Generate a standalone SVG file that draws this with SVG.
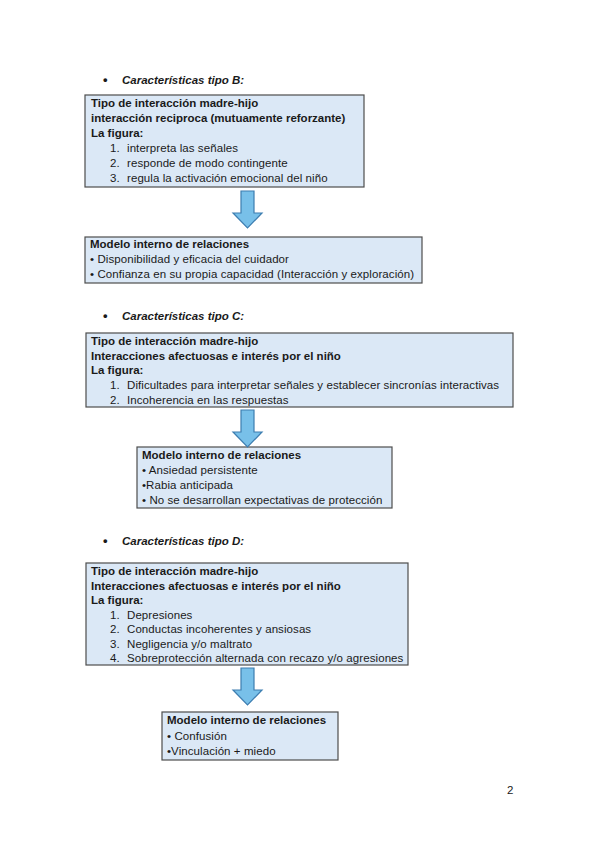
<svg xmlns="http://www.w3.org/2000/svg" width="599" height="848" viewBox="0 0 599 848">
<style>
  text { font-family: "Liberation Sans", Arial, sans-serif; font-size: 11.5px; fill: #1a1a1a; letter-spacing: 0.08px; }
  .b { font-weight: bold; letter-spacing: 0; }
  .h { font-weight: bold; font-style: italic; letter-spacing: 0; }
  .dot { font-size: 13px; font-weight: bold; }
  .box { fill: #dbe8f6; stroke: #4d4d4d; stroke-width: 1.2; }
  .arrow { fill: #78c0e9; stroke: #3c7db0; stroke-width: 1.2; stroke-linejoin: miter; }
</style>
<defs>
  <path id="dnArrow" d="M -6.5 0 H 6.5 V 22 H 14.5 L 0 37 L -14.5 22 H -6.5 Z"/>
</defs>
<rect width="599" height="848" fill="#ffffff"/>

<g id="heading-B">
  <text class="dot" x="103" y="84">•</text>
  <text class="h" x="122" y="84">Características tipo B:</text>
</g>
<g id="box-B">
  <rect class="box" x="85" y="95" width="279" height="92"/>
  <text class="b" x="91" y="107">Tipo de interacción madre-hijo</text>
  <text class="b" x="91" y="122">interacción reciproca (mutuamente reforzante)</text>
  <text class="b" x="91" y="137">La figura:</text>
  <text x="110" y="152">1.</text><text x="127" y="152">interpreta las señales</text>
  <text x="110" y="167">2.</text><text x="127" y="167">responde de modo contingente</text>
  <text x="110" y="182">3.</text><text x="127" y="182">regula la activación emocional del niño</text>
</g>
<g id="model-B">
  <rect class="box" x="85" y="237" width="337" height="46"/>
  <text class="b" x="90" y="248">Modelo interno de relaciones</text>
  <text x="90" y="263">• Disponibilidad y eficacia del cuidador</text>
  <text x="90" y="278">• Confianza en su propia capacidad (Interacción y exploración)</text>
</g>

<g id="heading-C">
  <text class="dot" x="103" y="320">•</text>
  <text class="h" x="122" y="320">Características tipo C:</text>
</g>
<g id="box-C">
  <rect class="box" x="86" y="333" width="427" height="74"/>
  <text class="b" x="91" y="345">Tipo de interacción madre-hijo</text>
  <text class="b" x="91" y="360">Interacciones afectuosas e interés por el niño</text>
  <text class="b" x="91" y="374">La figura:</text>
  <text x="110" y="389">1.</text><text x="127" y="389">Dificultades para interpretar señales y establecer sincronías interactivas</text>
  <text x="110" y="404">2.</text><text x="127" y="404">Incoherencia en las respuestas</text>
</g>
<g id="model-C">
  <rect class="box" x="137" y="447" width="255" height="61"/>
  <text class="b" x="142" y="459">Modelo interno de relaciones</text>
  <text x="142" y="474">• Ansiedad persistente</text>
  <text x="142" y="489">•Rabia anticipada</text>
  <text x="142" y="504">• No se desarrollan expectativas de protección</text>
</g>

<g id="heading-D">
  <text class="dot" x="103" y="545">•</text>
  <text class="h" x="122" y="545">Características tipo D:</text>
</g>
<g id="box-D">
  <rect class="box" x="86" y="563" width="322" height="102"/>
  <text class="b" x="91" y="575">Tipo de interacción madre-hijo</text>
  <text class="b" x="91" y="590">Interacciones afectuosas e interés por el niño</text>
  <text class="b" x="91" y="604">La figura:</text>
  <text x="110" y="619">1.</text><text x="127" y="619">Depresiones</text>
  <text x="110" y="633">2.</text><text x="127" y="633">Conductas incoherentes y ansiosas</text>
  <text x="110" y="648">3.</text><text x="127" y="648">Negligencia y/o maltrato</text>
  <text x="110" y="662">4.</text><text x="127" y="662">Sobreprotección alternada con recazo y/o agresiones</text>
</g>
<g id="model-D">
  <rect class="box" x="162" y="712" width="176" height="48"/>
  <text class="b" x="167" y="724">Modelo interno de relaciones</text>
  <text x="167" y="740">• Confusión</text>
  <text x="167" y="755">•Vinculación + miedo</text>
</g>

<g id="connectors">
  <use href="#dnArrow" class="arrow" x="247.5" y="191"/>
  <use href="#dnArrow" class="arrow" x="247.5" y="410"/>
  <use href="#dnArrow" class="arrow" x="247.5" y="668"/>
</g>

<text x="507" y="794">2</text>
</svg>
